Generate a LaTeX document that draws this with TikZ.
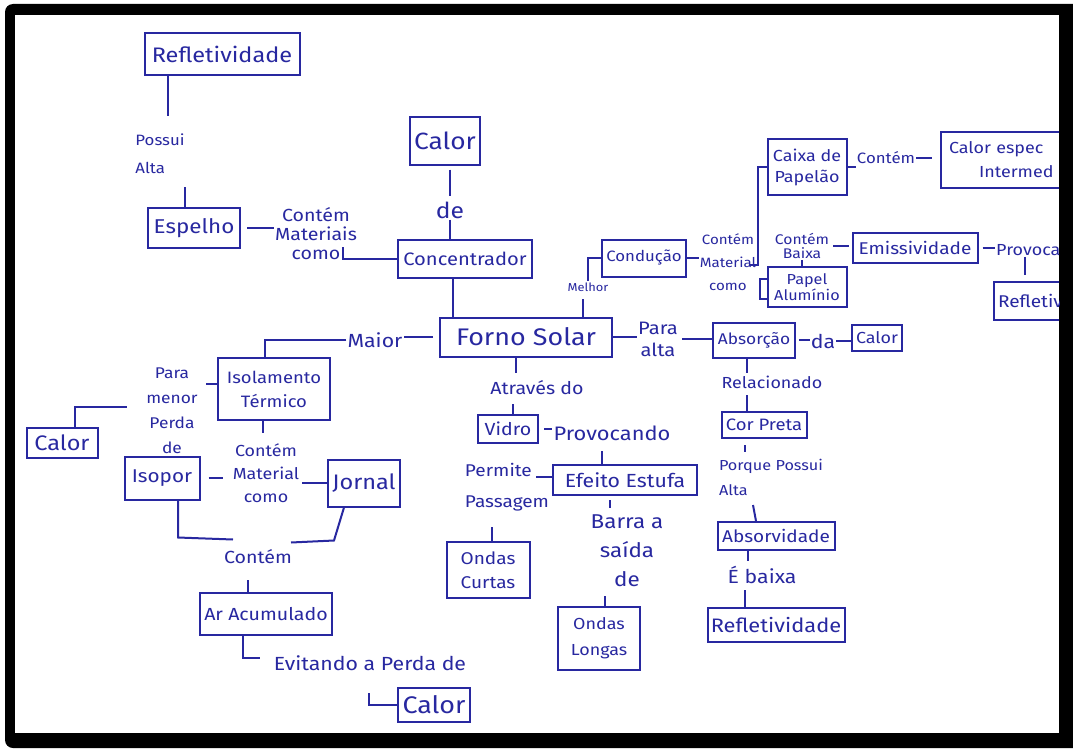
\documentclass[tikz,border=0pt]{standalone}
\usepackage{fontspec}
\setmainfont{Fira Sans}[FakeStretch=1.12]
\usetikzlibrary{arrows.meta}
\definecolor{ink}{RGB}{40,40,160}
\newcommand{\fs}[2]{\fontsize{#1}{#2}\selectfont}
\begin{document}
\begin{tikzpicture}[x=1pt,y=-1pt,
  every node/.style={text=ink},
  box/.style={draw=ink, line width=2pt, inner sep=2pt, align=center,
    font=\fs{17}{19}},
  lbl/.style={inner sep=1pt, align=center, font=\fs{16}{18}},
  link/.style={draw=ink, line width=2pt},
]
\useasboundingbox (0,0) rectangle (1073,749);
% page and black frame
\fill[white] (0,0) rectangle (1073,749);
\fill[black, rounded corners=8pt] (5,4) rectangle (1095,748);
\fill[white] (15,15) rectangle (1059,733);

\begin{scope}
\clip (15,15) rectangle (1059,733);

% ---------- concepts ----------
\node[box, minimum width=155pt, minimum height=42pt, font=\fs{21}{23}] (refl1) at (222,54) {Refletividade};
\node[box, minimum width=92pt, minimum height=40pt, font=\fs{20}{22}] (espelho) at (194,228) {Espelho};
\node[box, minimum width=70pt, minimum height=47pt, font=\fs{23.5}{25}] (calor1) at (445,141) {Calor};
\node[box, minimum width=134pt, minimum height=38pt, font=\fs{18}{20}] (conc) at (465,259) {Concentrador};
\node[box, minimum width=172pt, minimum height=39pt, font=\fs{24}{26}] (forno) at (526,337) {Forno Solar};
\node[box, minimum width=84pt, minimum height=37pt, font=\fs{15}{17}] (cond) at (644,258) {Condução};
\node[box, minimum width=79pt, minimum height=55pt, font=\fs{16}{21}] (caixa) at (807,167) {Caixa de\\Papelão};
\node[box, anchor=west, text width=130pt, align=left, minimum height=56pt, inner sep=8pt,
  font=\fs{16}{24}] (calorEsp) at (940,160) {Calor espec\\\hspace*{30pt}Intermed};
\node[box, minimum width=79pt, minimum height=40pt, font=\fs{14.5}{16}] (papel) at (807,287) {Papel\\Alumínio};
\node[box, minimum width=125pt, minimum height=30pt, font=\fs{17}{19}] (emis) at (915,248) {Emissividade};
\node[box, anchor=west, text width=80pt, align=left, minimum height=38pt, inner sep=4pt,
  font=\fs{17}{19}] (refl2) at (993,301) {Refletiv};
\node[box, minimum width=82pt, minimum height=35pt, font=\fs{15.5}{17}] (absorcao) at (754,340) {Absorção};
\node[box, minimum width=50pt, minimum height=26pt, font=\fs{16}{18}] (calor2) at (877,338) {Calor};
\node[box, minimum width=85pt, minimum height=26pt, font=\fs{16.5}{18}] (corpreta) at (764,425) {Cor Preta};
\node[box, minimum width=117pt, minimum height=28pt, font=\fs{17}{19}] (absorv) at (776,536) {Absorvidade};
\node[box, minimum width=137pt, minimum height=34pt, font=\fs{19.5}{21}] (refl3) at (776,625) {Refletividade};
\node[box, minimum width=60pt, minimum height=28pt, font=\fs{17.5}{19}] (vidro) at (508,429) {Vidro};
\node[box, minimum width=144pt, minimum height=30pt, font=\fs{19}{21}] (efeito) at (625,480) {Efeito Estufa};
\node[box, minimum width=83pt, minimum height=56pt, font=\fs{17}{24}] (ondasC) at (488,570) {Ondas\\Curtas};
\node[box, minimum width=82pt, minimum height=63pt, font=\fs{16}{26}] (ondasL) at (599,638) {Ondas\\Longas};
\node[box, minimum width=112pt, minimum height=62pt, font=\fs{16.5}{24}] (isol) at (274,389) {Isolamento\\Térmico};
\node[box, minimum width=71pt, minimum height=30pt, font=\fs{21}{23}] (calor3) at (62,443) {Calor};
\node[box, minimum width=75pt, minimum height=43pt, font=\fs{18.5}{20}] (isopor) at (162,478) {Isopor};
\node[box, minimum width=72pt, minimum height=47pt, font=\fs{21}{23}] (jornal) at (364,483) {Jornal};
\node[box, minimum width=132pt, minimum height=42pt, font=\fs{17.5}{19}] (ar) at (266,614) {Ar Acumulado};
\node[box, minimum width=72pt, minimum height=34pt, font=\fs{24}{26}] (calor4) at (434,705) {Calor};

% ---------- linking words ----------
\node[lbl, align=left, font=\fs{15}{28}] (possui) at (160,154) {Possui\\Alta};
\node[lbl, font=\fs{17.5}{19}] (contemMat1) at (316,234) {Contém\\Materiais\\como};
\node[lbl, font=\fs{22}{24}] (de1) at (450,210) {de};
\node[lbl, font=\fs{11.5}{13}] (melhor) at (588,287) {Melhor};
\node[lbl, font=\fs{13.5}{23}] (contemMat2) at (728,262) {Contém\\Material\\como};
\node[lbl, font=\fs{15}{17}] (contem1) at (886,158) {Contém};
\node[lbl, font=\fs{14}{14}] (contemBaixa) at (802,246) {Contém\\Baixa};
\node[lbl, anchor=west, font=\fs{16}{18}] (provoca) at (995,250) {Provoca};
\node[lbl, font=\fs{18}{22}] (paraalta) at (658,339) {Para\\alta};
\node[lbl, font=\fs{19}{21}] (da) at (823,341) {da};
\node[lbl, font=\fs{16}{18}] (relacionado) at (772,382) {Relacionado};
\node[lbl, align=left, font=\fs{14.5}{25}] (porque) at (771,477) {Porque Possui\\Alta};
\node[lbl, font=\fs{19}{21}] (ebaixa) at (762,575) {É baixa};
\node[lbl, font=\fs{17.5}{19}] (atraves) at (537,388) {Através do};
\node[lbl, font=\fs{19.5}{21}] (provocando) at (612,433) {Provocando};
\node[lbl, align=left, font=\fs{17}{31}] (permite) at (507,487) {Permite\\Passagem};
\node[lbl, font=\fs{20}{29}] (barra) at (627,551) {Barra a\\saída\\de};
\node[lbl, font=\fs{19}{21}] (maior) at (375,340) {Maior};
\node[lbl, font=\fs{15.5}{25}] (para) at (172,411) {Para\\menor\\Perda\\de};
\node[lbl, font=\fs{16}{23}] (contemMat3) at (266,473) {Contém\\Material\\como};
\node[lbl, font=\fs{17.5}{19}] (contem2) at (258,557) {Contém};
\node[lbl, font=\fs{19}{21}] (evitando) at (370,663) {Evitando a Perda de};

% ---------- connectors ----------
% reflectividade / espelho / concentrador
\draw[link] ([xshift=-54pt]refl1.south) -- ++(0,40);
\draw[link] ([xshift=-9pt]espelho.north) -- ++(0,-20);
\draw[link, shorten <=6pt] (espelho.east) -- (espelho.east -| contemMat1.west);
\draw[link] (conc.west) -- ++(-54,0) -- ++(0,-12);
\draw[link, shorten <=4pt, shorten >=4pt] ([xshift=5pt]calor1.south) -- (de1.north);
\draw[link] (de1.south) -- (de1.south |- conc.north);
\draw[link] ([xshift=-12pt]conc.south) -- ([xshift=-12pt]conc.south |- forno.north);
% conducao branch
\draw[link] ([xshift=57pt]forno.north) -- ++(0,-18);
\draw[link] (cond.west) -| (melhor.north);
\draw[link] (cond.east) -- (cond.east -| contemMat2.west);
\draw[link] (caixa.west) -- ++(-9,0) -- ++(0,98) -- ++(-8,0);
\draw[link] ([yshift=8pt]papel.west) -- ++(-7,0) -- ++(0,20) -- ++(7,0);
\draw[link] (caixa.east) -- (caixa.east -| contem1.west);
\draw[link, shorten >=8pt] (contem1.east) -- (contem1.east -| calorEsp.west);
\draw[link, shorten <=3pt, shorten >=3pt] (contemBaixa.east) -- (contemBaixa.east -| emis.west);
\draw[link] (contemBaixa.south) -- (contemBaixa.south |- papel.north);
\draw[link, shorten <=4pt] (emis.east) -- (emis.east -| provoca.west);
\draw[link] ([xshift=30pt]provoca.south west) -- ++(0,18);
% absorcao branch
\draw[link] (forno.east) -- (forno.east -| paraalta.west);
\draw[link, shorten <=3pt] (paraalta.east) -- (paraalta.east -| absorcao.west);
\draw[link, shorten <=3pt] (absorcao.east) -- (absorcao.east -| da.west);
\draw[link] (da.east) -- (da.east -| calor2.west);
\draw[link] ([xshift=-7pt]absorcao.south) -- ++(0,14);
\draw[link] ([xshift=-17pt]corpreta.north) -- ++(0,-16);
\draw[link] ([xshift=-19pt]corpreta.south) ++(0,6) -- ++(0,7);
\draw[link] ([xshift=-20pt]absorv.north) -- ++(-3,-16);
\draw[link] ([xshift=-28pt]absorv.south) -- ++(0,10);
\draw[link] ([xshift=-31pt]refl3.north) -- ++(0,-17);
% vidro branch
\draw[link] ([xshift=-10pt]forno.south) -- ++(0,15);
\draw[link] ([xshift=5pt]vidro.north) -- ++(0,-10);
\draw[link, shorten <=5pt] (vidro.east) -- (vidro.east -| provocando.west);
\draw[link] ([xshift=-23pt]efeito.north) -- ++(0,-13);
\draw[link] ([yshift=3pt]efeito.west) -- ++(-16,0);
\draw[link] ([xshift=4pt]ondasC.north) -- ++(0,-14);
\draw[link] ([xshift=-15pt]efeito.south) ++(0,4) -- ++(0,8);
\draw[link] ([xshift=6pt]ondasL.north) -- ++(0,-10);
% isolamento branch
\draw[link, shorten <=6pt] (forno.west) -- (forno.west -| maior.east);
\draw[link] (maior.west) -| ([xshift=-9pt]isol.north);
\draw[link] ([yshift=5pt]isol.west) -- ++(-11,0);
\draw[link] ([xshift=13pt]calor3.north) -- ++(0,-20) -- ++(52,0);
\draw[link] ([xshift=-11pt]isol.south) -- ++(0,12);
\draw[link] (isopor.east) ++(8,0) -- ++(14,0);
\draw[link] (jornal.west) -- ++(-25,0);
\draw[link] ([xshift=16pt]isopor.south) -- ++(0,37) -- ++(55,2);
\draw[link] ([xshift=-20pt]jornal.south) -- ++(-10,33) -- ++(-43,2);
\draw[link] ([xshift=-18pt]ar.north) -- ++(0,-12);
\draw[link] ([xshift=-23pt]ar.south) -- ++(0,22) -- ++(17,0);
\draw[link] (calor4.west) -- ++(-28,0) -- ++(0,-12);
\end{scope}
\end{tikzpicture}
\end{document}
